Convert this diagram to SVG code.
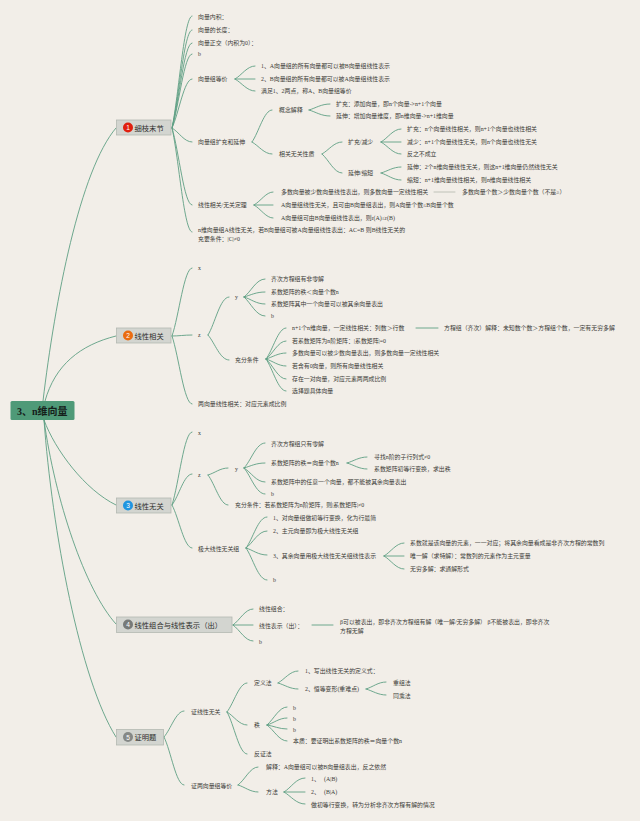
<svg xmlns="http://www.w3.org/2000/svg" width="640" height="821" viewBox="0 0 640 821">
<style>
text{font-family:"Liberation Serif","Noto Sans CJK SC",serif;font-size:5.9px;fill:#3a3a36}
.b{fill:#d3d5d0;stroke:#b4b8b2;stroke-width:.8}
.bt{font-size:7.3px;fill:#2e2e2c;font-family:"Noto Sans CJK SC",sans-serif}
.n{font-size:6.6px;fill:#fff;text-anchor:middle;font-family:"Liberation Sans",sans-serif}
#c path{fill:none;stroke:#5f9f83;stroke-width:.9;stroke-linecap:round}
</style>
<rect width="640" height="821" fill="#f2eee8"/>
<g id="c">
<path stroke-width="1" d="M43 401C55 300 80 170 116 128M45 401C55 365 80 345 116 336M44 420C55 450 85 490 116 505M44 420C55 500 85 590 116 624M44 420C52 530 80 680 116 737"/>
<path d="M172 128C179 94 184 16 192 16M172 128C179 99 184 30 192 30M172 128C179 102 184 43 192 43M172 128C179 106 184 54 192 54M172 128C179 113 184 79 192 79M172 128C179 132 184 142 192 142M172 128C179 151 184 205 192 205M172 128C179 159 184 232 192 232"/>
<path d="M235 79C242 75 247 66 255 66M235 79H255M235 79C242 83 247 91 255 91"/>
<path d="M252 142C259 132 264 110 272 110M252 142C259 146 264 154 272 154"/>
<path d="M309 110C316 108 321 104 330 104M309 110C316 112 321 116 330 116"/>
<path d="M322 154C329 150 334 142 342 142M322 154C329 160 334 173 342 173"/>
<path d="M381 142C388 138 393 129 401 129M381 142H401M381 142C388 146 393 154 401 154"/>
<path d="M381 173C388 171 393 167 401 167M381 173C388 175 393 180 401 180"/>
<path d="M254 205C261 201 266 192 273 192M254 205H273M254 205C261 209 266 218 273 218"/>
<path style="stroke:#b9bcb3" d="M434 192H455"/>
<path d="M172 336C179 316 184 268 192 268M172 336C179 336 184 335 192 335M172 336C179 357 184 404 192 404"/>
<path d="M208 335C215 324 220 297 229 297M208 335C215 343 220 360 229 360"/>
<path d="M244 297C251 292 256 279 265 279M244 297C251 295 256 292 265 292M244 297C251 299 256 304 265 304M244 297C251 303 256 316 265 316"/>
<path d="M266 359C273 350 278 328 286 328M266 359C273 354 278 341 286 341M266 359C273 357 278 353 286 353M266 359C273 361 278 366 286 366M266 359C273 365 278 379 286 379M266 359C273 369 278 391 286 391"/>
<path d="M416 328H438"/>
<path d="M172 505C179 483 184 432 192 432M172 505C179 496 184 474 192 474M172 505C179 518 184 548 192 548"/>
<path d="M208 475C215 473 220 468 228 468M208 475C215 484 220 505 228 505"/>
<path d="M244 468C251 461 256 443 265 443M244 468C251 466 256 463 265 463M244 468C251 472 256 482 265 482M244 468C251 476 256 494 265 494"/>
<path d="M347 463C354 461 359 457 367 457M347 463C354 465 359 469 367 469"/>
<path d="M246 548C253 539 258 517 267 517M246 548C253 543 258 531 267 531M246 548C253 550 258 555 267 555M246 548C253 558 258 580 267 580"/>
<path d="M384 556C391 552 396 543 404 543M384 556H404M384 556C391 560 396 569 404 569"/>
<path d="M233 625C240 620 245 609 253 609M233 625H253M233 625C240 630 245 641 253 641"/>
<path d="M312 625H333"/>
<path d="M164 737C171 729 176 711 184 711M164 737C171 751 176 785 184 785"/>
<path d="M227 712C234 703 239 683 247 683M227 712C234 716 239 725 247 725M227 712C234 724 239 754 247 754"/>
<path d="M278 683C285 679 290 671 298 671M278 683C285 685 290 689 298 689"/>
<path d="M366 689C373 687 378 682 386 682M366 689C373 691 378 695 386 695"/>
<path d="M267 725C274 719 279 707 287 707M267 725C274 723 279 718 287 718M267 725C274 726 279 729 287 729M267 725C274 730 279 741 287 741"/>
<path d="M238 785C245 780 250 767 258 767M238 785C245 787 250 792 258 792"/>
<path d="M284 792C291 788 296 778 305 778M284 792H305M284 792C291 796 296 804 305 804"/>
</g>
<g id="root"><rect x="10.5" y="401" width="64" height="19" rx="1.5" fill="#4f9a78"/><text x="17" y="415" style="font-size:10px;font-weight:bold;fill:#15201a;font-family:'Liberation Serif','Noto Sans CJK SC',serif">3、n维向量</text></g>
<g id="b1"><rect class="b" x="116.5" y="120" width="54.5" height="15"/><circle cx="128" cy="127.5" r="5" fill="#e0200f"/><text class="n" x="128" y="130">1</text><text class="bt" x="134.5" y="130.5">细枝末节</text></g>
<g id="b2"><rect class="b" x="116.5" y="328" width="54.5" height="15"/><circle cx="128" cy="335.5" r="5" fill="#ea6c10"/><text class="n" x="128" y="338">2</text><text class="bt" x="134.5" y="338.5">线性相关</text></g>
<g id="b3"><rect class="b" x="116.5" y="498" width="54.5" height="15"/><circle cx="128" cy="505.5" r="5" fill="#1f95e0"/><text class="n" x="128" y="508">3</text><text class="bt" x="134.5" y="508.5">线性无关</text></g>
<g id="b4"><rect class="b" x="116.5" y="617" width="115.5" height="15.5"/><circle cx="128" cy="624.5" r="5" fill="#777a78"/><text class="n" x="128" y="627">4</text><text class="bt" x="134.5" y="627.5">线性组合与线性表示（出）</text></g>
<g id="b5"><rect class="b" x="116.5" y="729.5" width="47" height="15.5"/><circle cx="128" cy="737" r="5" fill="#858886"/><text class="n" x="128" y="739.5">5</text><text class="bt" x="134.5" y="740">证明题</text></g>
<g id="t1"><text x="198" y="19">向量内积：</text></g>
<g id="t2"><text x="198" y="32">向量的长度：</text></g>
<g id="t3"><text x="198" y="44.5">向量正交（内积为0）：</text></g>
<g id="t4"><text x="198" y="56">b</text></g>
<g id="t5"><text x="198" y="81">向量组等价</text></g>
<g id="t6"><text x="261" y="68">1、A向量组的所有向量都可以被B向量组线性表示</text></g>
<g id="t7"><text x="261" y="81">2、B向量组的所有向量都可以被A向量组线性表示</text></g>
<g id="t8"><text x="261" y="93">满足1、2两点，称A、B向量组等价</text></g>
<g id="t9"><text x="198" y="144">向量组扩充和延伸</text></g>
<g id="t10"><text x="279" y="112">概念解释</text></g>
<g id="t11"><text x="336" y="106">扩充：添加向量，即n个向量-&gt;n+1个向量</text></g>
<g id="t12"><text x="336" y="118">延伸：增加向量维度，即n维向量-&gt;n+1维向量</text></g>
<g id="t13"><text x="279" y="156">相关无关性质</text></g>
<g id="t14"><text x="348" y="144">扩充/减少</text></g>
<g id="t15"><text x="348" y="175">延伸/缩短</text></g>
<g id="t16"><text x="407" y="131">扩充：n个向量线性相关，则n+1个向量也线性相关</text></g>
<g id="t17"><text x="407" y="144">减少：n+1个向量线性无关，则n个向量也线性无关</text></g>
<g id="t18"><text x="407" y="156">反之不成立</text></g>
<g id="t19"><text x="407" y="169">延伸：2个n维向量线性无关，则这n+1维向量仍然线性无关</text></g>
<g id="t20"><text x="407" y="182">缩短：n+1维向量线性相关，则n维向量线性相关</text></g>
<g id="t21"><text x="198" y="207">线性相关/无关定理</text></g>
<g id="t22"><text x="281" y="194">多数向量被少数向量线性表出，则多数向量一定线性相关</text></g>
<g id="t23"><text x="462" y="194">多数向量个数＞少数向量个数（不是≥）</text></g>
<g id="t24"><text x="281" y="207">A向量组线性无关，且可由B向量组表出，则A向量个数≤B向量个数</text></g>
<g id="t25"><text x="281" y="220">A向量组可由B向量组线性表出，则r(A)≤r(B)</text></g>
<g id="t26"><text x="198" y="232">n维向量组A线性无关，若B向量组可被A向量组线性表出：AC=B 则B线性无关的</text><text x="198" y="241">充要条件：|C|≠0</text></g>
<g id="u1"><text x="198" y="270">x</text></g>
<g id="u2"><text x="198" y="337">z</text></g>
<g id="u3"><text x="198" y="406">两向量线性相关：对应元素成比例</text></g>
<g id="u4"><text x="235" y="299">y</text></g>
<g id="u5"><text x="271" y="281">齐次方程组有非零解</text></g>
<g id="u6"><text x="271" y="294">系数矩阵的秩＜向量个数n</text></g>
<g id="u7"><text x="271" y="306">系数矩阵其中一个向量可以被其余向量表出</text></g>
<g id="u8"><text x="271" y="318">b</text></g>
<g id="u9"><text x="235" y="362">充分条件</text></g>
<g id="u10"><text x="292" y="330">n+1个n维向量，一定线性相关：列数＞行数</text></g>
<g id="u11"><text x="292" y="343">若系数矩阵为n阶矩阵：|系数矩阵|=0</text></g>
<g id="u12"><text x="292" y="355">多数向量可以被少数向量表出，则多数向量一定线性相关</text></g>
<g id="u13"><text x="292" y="368">若含有0向量，则所有向量线性相关</text></g>
<g id="u14"><text x="292" y="381">存在一对向量，对应元素两两成比例</text></g>
<g id="u15"><text x="292" y="393">选择题具体向量</text></g>
<g id="u16"><text x="444" y="330">方程组（齐次）解释：未知数个数＞方程组个数，一定有无穷多解</text></g>
<g id="v1"><text x="198" y="435">x</text></g>
<g id="v2"><text x="198" y="477">z</text></g>
<g id="v3"><text x="235" y="471">y</text></g>
<g id="v4"><text x="271" y="446">齐次方程组只有零解</text></g>
<g id="v5"><text x="271" y="465">系数矩阵的秩＝向量个数n</text></g>
<g id="v6"><text x="271" y="484">系数矩阵中的任意一个向量，都不能被其余向量表出</text></g>
<g id="v7"><text x="271" y="496">b</text></g>
<g id="v8"><text x="374" y="459">寻找n阶的子行列式≠0</text></g>
<g id="v9"><text x="374" y="471">系数矩阵初等行变换，求出秩</text></g>
<g id="v10"><text x="235" y="507">充分条件：若系数矩阵为n阶矩阵，则|系数矩阵|≠0</text></g>
<g id="v11"><text x="198" y="551">极大线性无关组</text></g>
<g id="v12"><text x="273" y="520">1、对向量组做初等行变换，化为行最简</text></g>
<g id="v13"><text x="273" y="533">2、主元向量即为极大线性无关组</text></g>
<g id="v14"><text x="273" y="558">3、其余向量用极大线性无关组线性表示</text></g>
<g id="v15"><text x="273" y="582">b</text></g>
<g id="v16"><text x="410" y="545">系数就是该向量的元素，一一对应；将其余向量看成是非齐次方程的常数列</text></g>
<g id="v17"><text x="410" y="558">唯一解（求特解）：常数列的元素作为主元变量</text></g>
<g id="v18"><text x="410" y="571">无穷多解：求通解形式</text></g>
<g id="w1"><text x="259" y="611">线性组合：</text></g>
<g id="w2"><text x="259" y="628">线性表示（出）：</text></g>
<g id="w3"><text x="259" y="644">b</text></g>
<g id="w4"><text x="340" y="624">β可以被表出，即非齐次方程组有解（唯一解/无穷多解） β不能被表出，即非齐次</text><text x="340" y="633">方程无解</text></g>
<g id="p1"><text x="191" y="714">证线性无关</text></g>
<g id="p2"><text x="254" y="685">定义法</text></g>
<g id="p3"><text x="305" y="673">1、写出线性无关的定义式：</text></g>
<g id="p4"><text x="305" y="691">2、恒等变形(重难点)</text></g>
<g id="p5"><text x="393" y="685">重组法</text></g>
<g id="p6"><text x="393" y="698">同乘法</text></g>
<g id="p7"><text x="254" y="727">秩</text></g>
<g id="p8"><text x="293" y="710">b</text></g>
<g id="p9"><text x="293" y="721">b</text></g>
<g id="p10"><text x="293" y="732">b</text></g>
<g id="p11"><text x="293" y="743">本质：要证明出系数矩阵的秩＝向量个数n</text></g>
<g id="p12"><text x="254" y="756">反证法</text></g>
<g id="p13"><text x="191" y="788">证两向量组等价</text></g>
<g id="p14"><text x="266" y="769">解释：A向量组可以被B向量组表出，反之依然</text></g>
<g id="p15"><text x="266" y="794">方法</text></g>
<g id="p16"><text x="311" y="781">1、<tspan x="324">(A|B)</tspan></text></g>
<g id="p17"><text x="311" y="794">2、<tspan x="324">(B|A)</tspan></text></g>
<g id="p18"><text x="311" y="807">做初等行变换，转为分析非齐次方程有解的情况</text></g>
</svg>
